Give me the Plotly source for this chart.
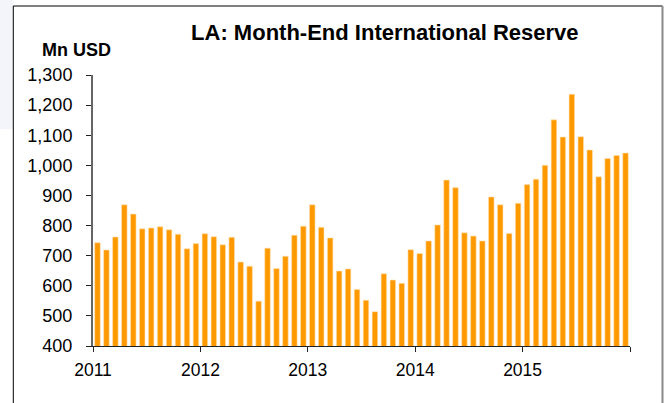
import plotly.graph_objects as go

months = [f"{y}-{m:02d}" for y in range(2011, 2016) for m in range(1, 13)]
reserves = [
    743, 719, 762, 869, 838, 789, 792, 796, 786, 771, 723, 740,
    773, 763, 736, 761, 679, 665, 549, 725, 657, 698, 768, 798,
    869, 794, 759, 649, 656, 588, 552, 514, 640, 619, 608, 720,
    707, 749, 802, 951, 926, 776, 765, 749, 895, 869, 774, 874,
    936, 954, 1000, 1151, 1094, 1236, 1095, 1051, 962, 1023, 1033, 1041,
]
year_ticks = ["2011", "2012", "2013", "2014", "2015", ""]

xpos = [i + 0.5 for i in range(len(reserves))]

fig = go.Figure()
fig.add_trace(go.Bar(
    x=xpos, y=reserves, customdata=months,
    marker=dict(color="#FF9900", line=dict(color="#FFE2B8", width=0.6)),
    width=0.62,
    hovertemplate="%{customdata}: %{y}<extra></extra>",
))

fig.update_layout(
    width=667, height=403,
    margin=dict(l=93, r=37, t=75, b=57),
    paper_bgcolor="white", plot_bgcolor="white",
    font=dict(family="Liberation Sans, Arial, sans-serif", color="black", size=18),
    showlegend=False,
    title=dict(text="<b>LA: Month-End International Reserve</b>",
               x=0.577, xanchor="center", y=0.919, yanchor="middle",
               font=dict(size=22, color="black")),
    xaxis=dict(range=[0, 60], tickmode="array",
               tickvals=[0, 12, 24, 36, 48, 60], ticktext=year_ticks,
               showgrid=False, zeroline=False, showline=True,
               linecolor="#222222", linewidth=1,
               ticks="outside", ticklen=5, tickcolor="#222222",
               ticklabelstandoff=3,
               tickfont=dict(size=17.5)),
    yaxis=dict(range=[400, 1300], dtick=100, tickformat=",",
               showgrid=False, zeroline=False, showline=True,
               linecolor="#666666", linewidth=2,
               ticks="outside", ticklen=5, tickcolor="#222222",
               ticklabelstandoff=10,
               tickfont=dict(size=18)),
    annotations=[dict(text="<b>Mn USD</b>", xref="paper", yref="paper",
                      x=-0.030, y=1.092, xanchor="center", yanchor="middle",
                      showarrow=False, font=dict(size=18, color="black"))],
    shapes=[
        dict(type="rect", xref="paper", yref="paper",
             x0=-0.175, x1=-0.1484, y0=0.80, y1=1.30,
             line=dict(width=0), fillcolor="#F4F5FB", layer="below"),
        dict(type="line", xref="paper", yref="paper",
             x0=-0.1484, x1=-0.1484, y0=-0.25, y1=1.2546,
             line=dict(color="black", width=1)),
        dict(type="line", xref="paper", yref="paper",
             x0=-0.1484, x1=1.0605, y0=1.2546, y1=1.2546,
             line=dict(color="black", width=1)),
        dict(type="line", xref="paper", yref="paper",
             x0=1.0605, x1=1.0605, y0=-0.25, y1=1.2546,
             line=dict(color="#888888", width=2)),
    ],
)

fig.write_html("out.html", config={"displayModeBar": False},
               post_script="document.body.style.margin='0';")
